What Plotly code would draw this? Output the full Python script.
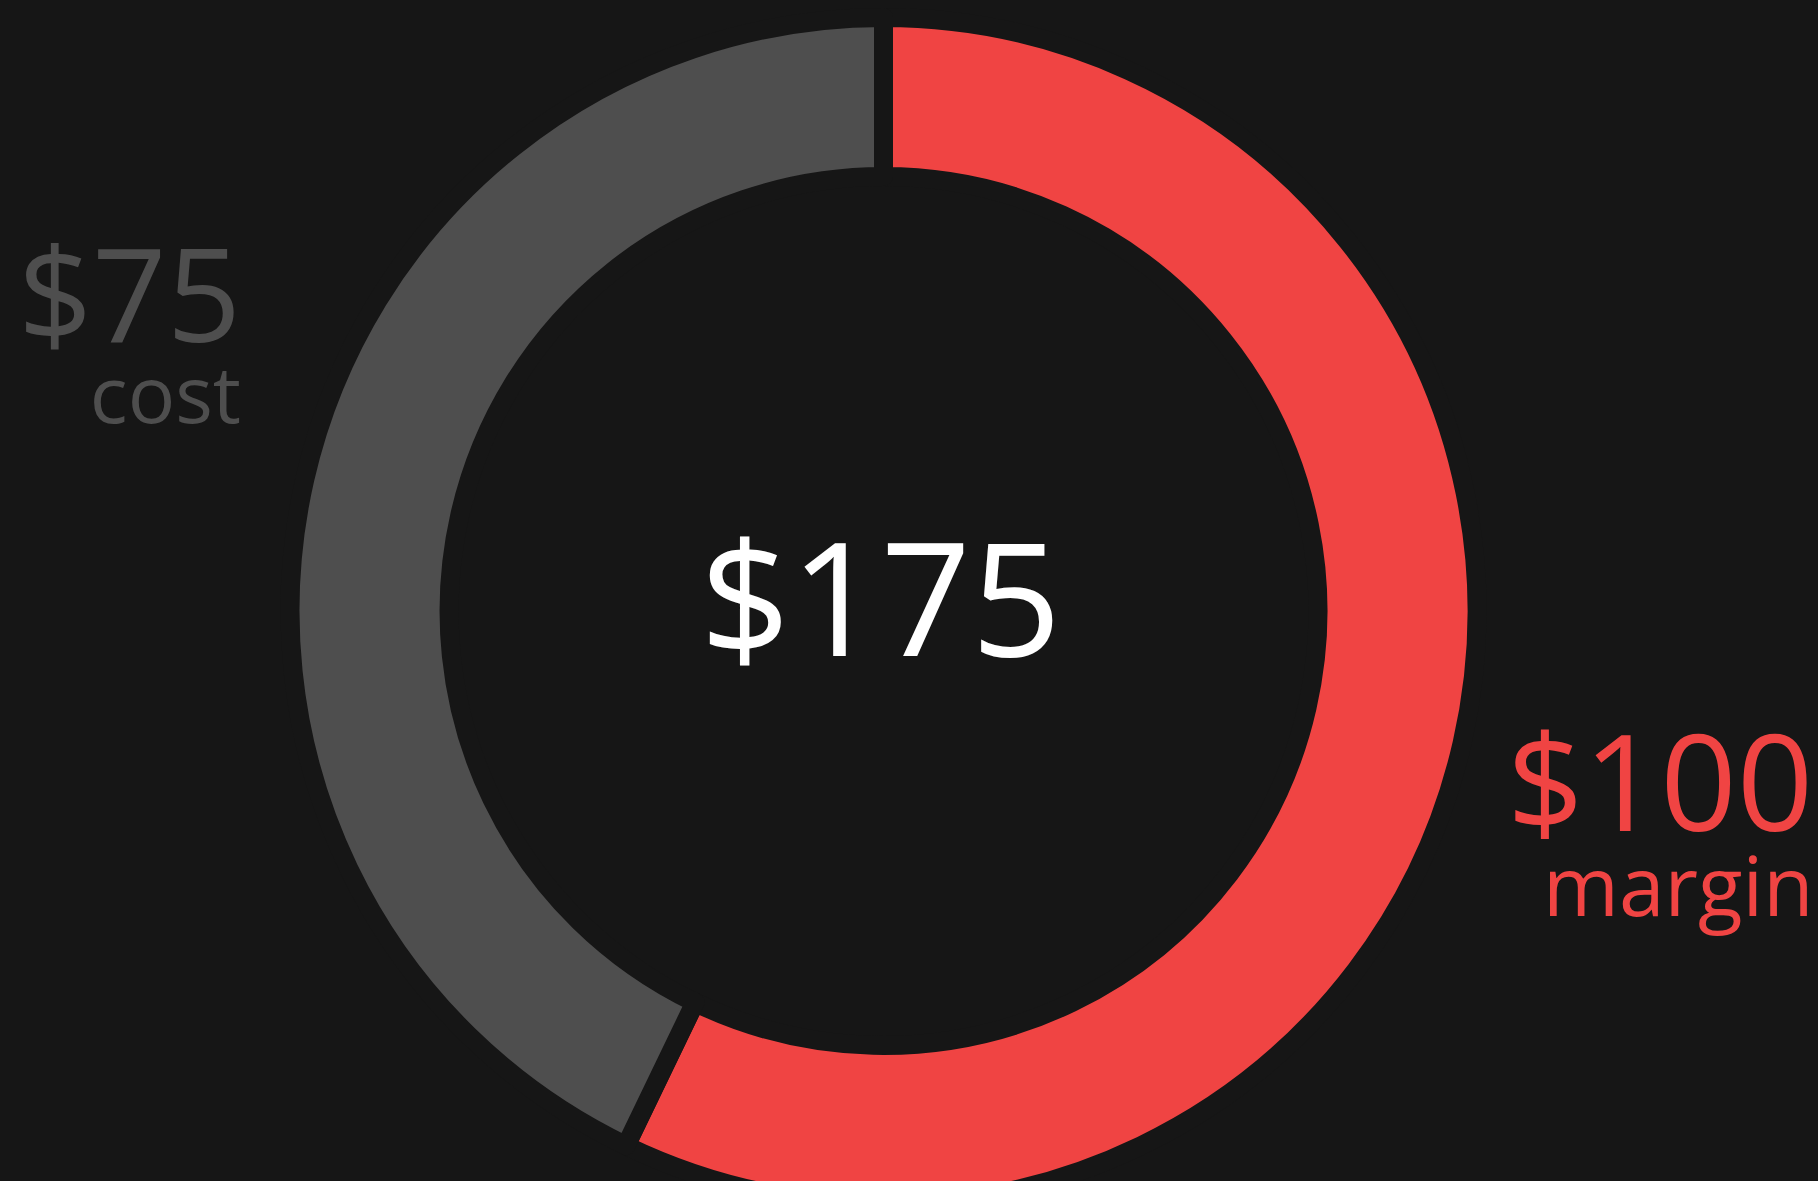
import plotly.graph_objects as go

# ---- data ----
categories = ["cost", "margin"]
values = [75, 100]
colors = ["#4e4e4e", "#f04443"]
total_label = "$" + str(sum(values))

# ---- layout geometry (pixels) ----
W, H = 1818, 1218
BG = "#161616"
FONT = "Open Sans"
WEIGHT = 400

cx, cy, R = 883.5, 611.0, 593.5


def px_x(x):
    return x / W


def px_y(y):
    return 1 - y / H


fig = go.Figure()
# margin drawn clockwise from 12 o'clock, cost closes the ring on the left
fig.add_trace(go.Pie(
    labels=categories[::-1],
    values=values[::-1],
    hole=0.732,
    sort=False,
    direction="clockwise",
    rotation=0,
    marker=dict(colors=colors[::-1], line=dict(color=BG, width=19)),
    textinfo="none",
    hoverinfo="skip",
    showlegend=False,
    domain=dict(x=[px_x(cx - R), px_x(cx + R)], y=[px_y(cy + R), px_y(cy - R)]),
))

# centre total
fig.add_annotation(
    text=total_label, x=px_x(880), y=px_y(594), xref="paper", yref="paper",
    xanchor="center", yanchor="middle", showarrow=False,
    font=dict(family=FONT, size=158, color="#ffffff", weight=WEIGHT),
)

# side labels: value on first line, category on second (one text block each)
side_specs = [
    # idx, right x(px), top y(px), value size, label size, line base size
    (0, 243, 201, 130, 79, 62.5),
    (1, 1815, 686, 134, 82, 65),
]
for i, x, y, vsize, lsize, base in side_specs:
    txt = ("<span style='font-size:%dpx'>$%d</span><br>"
           "<span style='font-size:%dpx'>%s</span>" % (vsize, values[i], lsize, categories[i]))
    fig.add_annotation(
        text=txt, x=px_x(x), y=px_y(y), xref="paper", yref="paper",
        xanchor="right", yanchor="top", align="right", showarrow=False,
        font=dict(family=FONT, size=base, color=colors[i], weight=WEIGHT),
    )

fig.update_layout(
    width=W, height=H,
    margin=dict(l=0, r=0, t=0, b=0),
    paper_bgcolor=BG, plot_bgcolor=BG,
)

fig.write_html(
    "out.html",
    config={"displayModeBar": False},
    post_script="document.body.style.margin='0';document.body.style.background='%s';"
                "document.body.style.overflow='hidden';" % BG,
)
